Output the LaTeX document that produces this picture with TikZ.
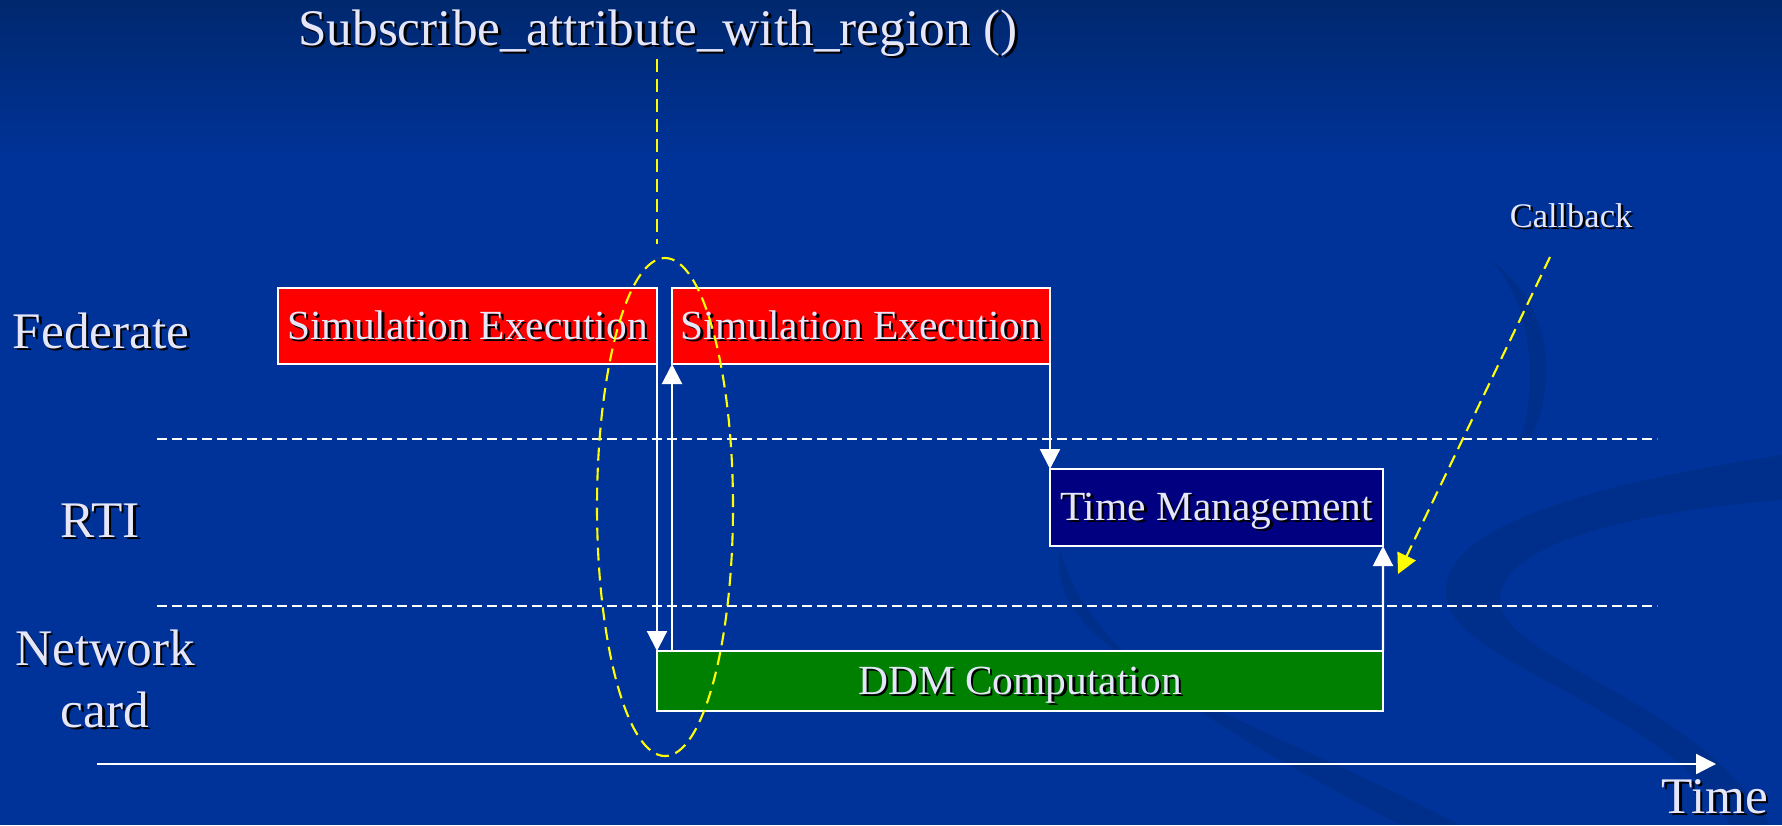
\documentclass[tikz,border=0pt]{standalone}
\usepackage{fontspec}
\setmainfont{Liberation Serif}
\usepackage{tikz}
\usetikzlibrary{shapes.geometric,arrows.meta,positioning}
\definecolor{SlideBlue}{HTML}{003399}
\definecolor{SlideTop}{HTML}{00286E}
\definecolor{LabelWhite}{HTML}{E6E6FA}
\definecolor{SimRed}{HTML}{FF0000}
\definecolor{TmNavy}{HTML}{000080}
\definecolor{DdmGreen}{HTML}{008000}
\definecolor{MarkYellow}{HTML}{FFFF00}
\newcommand\shd[1]{\makebox[0pt][l]{\raisebox{-0.7pt}{\hspace{0.7pt}\color{black}#1}}#1}
\tikzset{
  % Base box
  BX/.style={rectangle,draw=white,line width=0.6pt,inner sep=0pt,outer sep=0pt,
             text=LabelWhite,anchor=north west,text height=3.0mm,text depth=0.4mm,
             font=\fontsize{11.8}{14}\selectfont},
  % Colour variants
  bS/.style={BX,fill=SimRed,minimum height=0.76cm},
  bT/.style={BX,fill=TmNavy,minimum width=3.33cm,minimum height=0.77cm},
  bD/.style={BX,fill=DdmGreen,minimum width=7.26cm,minimum height=0.60cm},
  % Labels
  LB/.style={text=LabelWhite,inner sep=0pt,font=\fontsize{14.6}{17.6}\selectfont},
  LS/.style={text=LabelWhite,inner sep=0pt,font=\fontsize{9.8}{12}\selectfont},
  % Arrows and lines
  arr/.style={-{Triangle[length=2mm,width=2mm]},white,line width=0.6pt},
  sep/.style={white,line width=0.6pt,dash pattern=on 1mm off 0.5mm},
  ymark/.style={MarkYellow,line width=0.6pt,dash pattern=on 1.3mm off 0.7mm},
  yarr/.style={ymark,-{Triangle[length=2mm,width=2mm,fill=MarkYellow]}},
  swirl/.style={fill=black,fill opacity=0.09,draw=none}
}
\begin{document}
\begin{tikzpicture}
  % slide background
  \fill[SlideBlue] (0,0) rectangle (17.82,-8.25);
  \shade[top color=SlideTop,bottom color=SlideBlue] (0,0) rectangle (17.82,-1.6);
  \fill[swirl] (17.82,-4.55) .. controls (15.5,-4.9) and (14.2,-5.4) .. (14.5,-6.1)
    .. controls (14.8,-6.7) and (16.8,-7.2) .. (17.3,-8.25) -- (17.7,-8.25)
    .. controls (17.0,-7.0) and (15.0,-6.6) .. (15.0,-6.0)
    .. controls (15.0,-5.4) and (16.5,-5.1) .. (17.82,-5.0) -- cycle;
  \fill[swirl] (10.6,-5.5) .. controls (10.4,-6.6) and (12.6,-7.2) .. (14.6,-8.25) -- (14.0,-8.25)
    .. controls (12.2,-7.3) and (10.9,-6.6) .. (10.6,-5.5) -- cycle;
  \fill[swirl] (14.9,-2.6) .. controls (15.5,-3.0) and (15.6,-3.8) .. (15.3,-4.4) -- (15.2,-4.4)
    .. controls (15.4,-3.8) and (15.3,-3.0) .. (14.9,-2.6) -- cycle;
  \useasboundingbox (0,0) rectangle (17.82,-8.25);

  % rows
  \node[LB,anchor=base west] (fed) at (0.12,-3.48) {\shd{Federate}};
  \node[LB,anchor=base] (rti) at (1.00,-5.37) {\shd{RTI}};
  \node[LB,anchor=north,align=center] (net) at (1.05,-6.29) {\shd{Network}\\\shd{card}};
  \coordinate (s1a) at (1.57,-4.39); \coordinate (s1b) at (16.57,-4.39);
  \coordinate (s2a) at (1.57,-6.06); \coordinate (s2b) at (16.57,-6.06);
  \draw[sep] (s1a) -- (s1b);
  \draw[sep] (s2a) -- (s2b);

  % activity boxes
  \node[bS,minimum width=3.79cm] (sim1) at (2.78,-2.88) {\shd{Simulation Execution}};
  \node[bS,minimum width=3.78cm,anchor=west,right=0.15cm of sim1] (sim2) {\shd{Simulation Execution}};
  \node[bT,below right=1.05cm and 0cm of sim2] (tm) {\shd{Time Management}};
  \node[bD,below right=2.87cm and 0cm of sim1] (ddm) {\shd{DDM Computation}};

  \draw[arr] (sim1.south east) -- (ddm.north west);
  \draw[arr] (sim2.south west |- ddm.north) -- (sim2.south west);
  \draw[arr] (sim2.south east) -- (tm.north west);
  \draw[arr] (ddm.north east) -- (tm.south east);

  % time axis
  \coordinate (t0) at (0.97,-7.64);
  \coordinate (t1) at (17.16,-7.64);
  \draw[arr] (t0) -- (t1);
  \node[LB,anchor=base west] (time) at (16.61,-8.13) {\shd{Time}};

  % service call and callback
  \node[LB,anchor=base] (call) at (6.58,-0.45) {\shd{Subscribe\_attribute\_with\_region ()}};
  \coordinate (y0) at (6.57,-0.59);
  \coordinate (y1) at (6.57,-2.44);
  \draw[ymark] (y0) -- (y1);
  \node[ellipse,ymark,draw,inner sep=0pt,minimum width=1.36cm,minimum height=4.98cm] (ring) at (6.65,-5.07) {};
  \node[LS,anchor=base] (cb) at (15.71,-2.27) {\shd{Callback}};
  \coordinate (cb0) at (15.50,-2.57);
  \coordinate (cb1) at (13.98,-5.74);
  \draw[yarr] (cb0) -- (cb1);
\end{tikzpicture}
\end{document}
